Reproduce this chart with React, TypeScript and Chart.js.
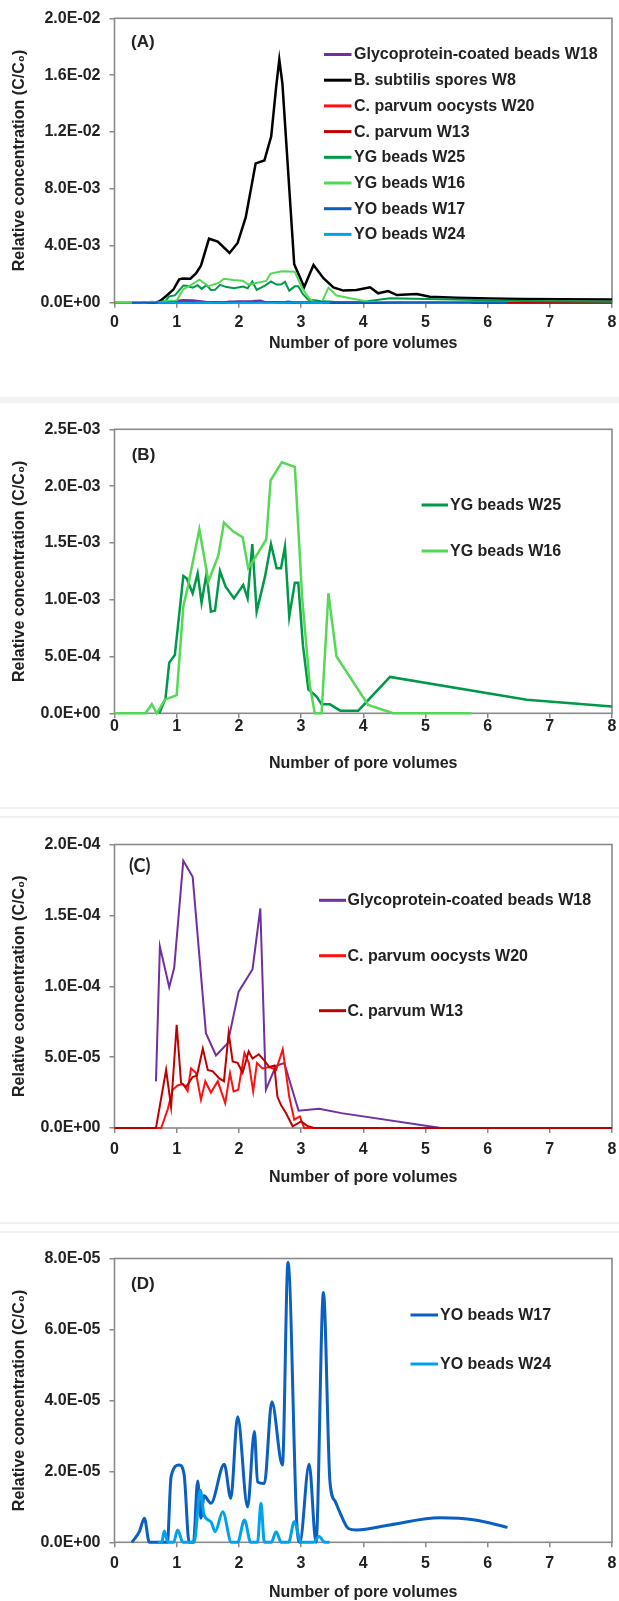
import React, { useEffect, useRef } from "react";
import { Chart, registerables } from "chart.js";
Chart.register(...registerables);

// ---------- data (x = number of pore volumes, y = C/C0) ----------
const glycoW18X = [0.667, 0.73, 0.88, 0.96, 1.106, 1.257, 1.47, 1.632, 1.82, 1.996, 2.22, 2.345, 2.435, 2.596, 2.73, 2.96, 3.29, 3.65, 5.25];
const glycoW18Y = [3.29e-5, 1.28e-4, 9.93e-5, 1.13e-4, 1.885e-4, 1.772e-4, 6.69e-5, 5.12e-5, 5.98e-5, 9.62e-5, 1.12e-4, 1.549e-4, 2.7e-5, 4.39e-5, 4.58e-5, 1.22e-5, 1.36e-5, 1.05e-5, 0];

const bsubW8X = [0.70, 0.85, 0.95, 1.04, 1.10, 1.22, 1.31, 1.39, 1.52, 1.66, 1.85, 1.98, 2.11, 2.27, 2.41, 2.52, 2.60, 2.65, 2.70, 2.89, 3.05, 3.20, 3.36, 3.52, 3.68, 3.89, 4.11, 4.24, 4.40, 4.54, 4.86, 5.07, 5.50, 6.04, 6.55, 7.20, 8.00];
const bsubW8Y = [0, 0.00054, 0.00094, 0.00164, 0.0017, 0.00169, 0.00206, 0.0026, 0.0045, 0.0043, 0.0035, 0.0042, 0.0060, 0.0098, 0.0100, 0.0117, 0.0152, 0.0171, 0.0154, 0.0027, 0.0011, 0.00265, 0.00172, 0.00108, 0.00085, 0.00089, 0.00108, 0.00066, 0.00082, 0.00054, 0.00061, 0.00042, 0.00035, 0.00030, 0.00026, 0.00024, 0.00022];

const cpW20X = [0, 0.75, 0.855, 0.935, 1.015, 1.10, 1.176, 1.23, 1.31, 1.39, 1.46, 1.55, 1.66, 1.78, 1.857, 1.915, 1.99, 2.09, 2.16, 2.23, 2.29, 2.38, 2.49, 2.60, 2.705, 2.81, 2.89, 2.98, 3.05, 8.0];
const cpW20Y = [0, 0, 1.3e-5, 2.7e-5, 3.0e-5, 3.1e-5, 2.6e-5, 4.2e-5, 3.9e-5, 2.0e-5, 3.3e-5, 2.5e-5, 3.3e-5, 1.76e-5, 3.87e-5, 2.58e-5, 2.7e-5, 5.3e-5, 4.6e-5, 2.58e-5, 4.58e-5, 4.2e-5, 4.3e-5, 4.1e-5, 5.56e-5, 2.2e-5, 5.9e-6, 8.2e-6, 0, 0];

const cpW13X = [0, 0.667, 0.83, 0.91, 1.0, 1.07, 1.15, 1.257, 1.327, 1.42, 1.50, 1.58, 1.686, 1.76, 1.836, 1.90, 1.98, 2.06, 2.157, 2.22, 2.32, 2.40, 2.49, 2.57, 2.62, 2.68, 2.757, 2.865, 3.0, 3.1, 3.21, 8.0];
const cpW13Y = [0, 0, 4.1e-5, 1.5e-5, 7.28e-5, 3.2e-5, 2.9e-5, 3.6e-5, 3.7e-5, 5.6e-5, 4.1e-5, 4.0e-5, 3.5e-5, 3.3e-5, 6.7e-5, 4.7e-5, 4.6e-5, 3.9e-5, 5.4e-5, 4.9e-5, 5.2e-5, 4.8e-5, 4.3e-5, 4.4e-5, 2.2e-5, 1.6e-5, 1.06e-5, 1.2e-6, 4.7e-6, 1.5e-6, 0, 0];

const ygW25X = [0.72, 0.82, 0.88, 0.97, 1.107, 1.16, 1.257, 1.337, 1.40, 1.48, 1.55, 1.616, 1.696, 1.787, 1.921, 2.07, 2.14, 2.216, 2.286, 2.42, 2.516, 2.607, 2.677, 2.741, 2.81, 2.90, 2.955, 3.03, 3.117, 3.25, 3.33, 3.465, 3.63, 3.92, 4.43, 6.63, 8.0];
const ygW25Y = [0, 1.3e-4, 4.46e-4, 5.13e-4, 1.209e-3, 1.188e-3, 1.056e-3, 1.232e-3, 9.74e-4, 1.232e-3, 8.95e-4, 9.04e-4, 1.253e-3, 1.115e-3, 1.012e-3, 1.13e-3, 1.012e-3, 1.49e-3, 8.95e-4, 1.203e-3, 1.49e-3, 1.276e-3, 1.276e-3, 1.467e-3, 8.5e-4, 1.15e-3, 1.15e-3, 6.0e-4, 2.11e-4, 1.47e-4, 7.9e-5, 7.9e-5, 2.3e-5, 2.3e-5, 3.2e-4, 1.2e-4, 6e-5];

const ygW16X = [0, 0.50, 0.60, 0.68, 0.81, 1.0, 1.107, 1.19, 1.364, 1.51, 1.67, 1.76, 1.91, 2.06, 2.15, 2.205, 2.44, 2.51, 2.69, 2.90, 3.02, 3.14, 3.22, 3.33, 3.44, 3.57, 4.08, 4.48, 5.74];
const ygW16Y = [0, 0, 8e-5, 0, 1.2e-4, 1.6e-4, 9.4e-4, 1.14e-3, 1.62e-3, 1.16e-3, 1.39e-3, 1.68e-3, 1.6e-3, 1.55e-3, 1.28e-3, 1.32e-3, 1.53e-3, 2.05e-3, 2.21e-3, 2.17e-3, 1.0e-3, 2.5e-4, 0, 0, 1.056e-3, 5.0e-4, 7.3e-5, 0, 0];

const yoW17X = [0.28, 0.40, 0.48, 0.56, 0.70, 0.85, 0.91, 1.04, 1.12, 1.20, 1.27, 1.337, 1.39, 1.44, 1.55, 1.765, 1.87, 1.98, 2.14, 2.25, 2.30, 2.41, 2.53, 2.70, 2.79, 2.93, 2.98, 3.13, 3.24, 3.36, 3.465, 3.55, 3.62, 3.76, 3.89, 4.43, 5.23, 5.8, 6.32];
const yoW17Y = [0, 3e-6, 6.8e-6, 0, 0, 0, 1.85e-5, 2.18e-5, 1.9e-5, 0, 0, 1.73e-5, 6.8e-6, 1.31e-5, 1.1e-5, 2.2e-5, 1.24e-5, 3.54e-5, 1.0e-5, 3.12e-5, 1.7e-5, 1.66e-5, 3.96e-5, 2.18e-5, 7.89e-5, 5.8e-6, 0, 2.2e-5, 0, 7.04e-5, 1.7e-5, 1.15e-5, 8.6e-6, 3.9e-6, 3.5e-6, 4.9e-6, 6.9e-6, 6.3e-6, 4.2e-6];

const yoW24X = [0.70, 0.76, 0.80, 0.86, 0.95, 1.015, 1.10, 1.28, 1.38, 1.44, 1.55, 1.62, 1.74, 1.88, 1.98, 2.09, 2.19, 2.30, 2.355, 2.41, 2.52, 2.60, 2.68, 2.80, 2.89, 3.00, 3.20, 3.29, 3.38, 3.46];
const yoW24Y = [0, 0, 3.2e-6, 0, 0, 3.5e-6, 0, 0, 1.47e-5, 7.7e-6, 5.8e-6, 3.0e-6, 8.6e-6, 0, 0, 6.3e-6, 0, 0, 1.1e-5, 0, 0, 3e-6, 0, 0, 5.8e-6, 0, 0, 1.6e-6, 0, 0];

const seriesNames = [
  "Glycoprotein-coated beads W18",
  "B. subtilis spores W8",
  "C. parvum oocysts W20",
  "C. parvum W13",
  "YG beads W25",
  "YG beads W16",
  "YO beads W17",
  "YO beads W24",
];

const xTickValues = [0, 1, 2, 3, 4, 5, 6, 7, 8];
const panelLabels = ["(A)", "(B)", "(C)", "(D)"];
const panelYMax = [2.0e-2, 2.5e-3, 2.0e-4, 8.0e-5];
const panelYStep = [4.0e-3, 5.0e-4, 5.0e-5, 2.0e-5];
const xTitle = "Number of pore volumes";
const yTitle = "Relative concentration (C/C\u2080)";

// ---------- styles ----------
const FONT = "'Liberation Sans', Arial, 'DejaVu Sans', sans-serif";
const TEXT = "#222222";
const AXIS = "#8a8a8a";

type S = { name: string; x: number[]; y: number[]; color: string; smooth: boolean; lw?: number };

const ALL: S[] = [
  { name: seriesNames[0], x: glycoW18X, y: glycoW18Y, color: "#7030A0", smooth: false },
  { name: seriesNames[1], x: bsubW8X, y: bsubW8Y, color: "#000000", smooth: false, lw: 2.5 },
  { name: seriesNames[2], x: cpW20X, y: cpW20Y, color: "#FF1010", smooth: false },
  { name: seriesNames[3], x: cpW13X, y: cpW13Y, color: "#C00000", smooth: false },
  { name: seriesNames[4], x: ygW25X, y: ygW25Y, color: "#00994A", smooth: false },
  { name: seriesNames[5], x: ygW16X, y: ygW16Y, color: "#55D855", smooth: false },
  { name: seriesNames[6], x: yoW17X, y: yoW17Y, color: "#0A5FC0", smooth: true },
  { name: seriesNames[7], x: yoW24X, y: yoW24Y, color: "#00A2EE", smooth: true },
];

type Panel = {
  idx: number;
  top: number;
  h: number;
  padTop: number;
  plotBottom: number;
  xTitlePad: number;
  xTickPad: number;
  series: number[];
  lw: number;
  legend: { x0: number; x1: number; tx: number; rows: number[] };
  label: { x: number; y: number; font: string };
};

const PANELS: Panel[] = [
  {
    idx: 0, top: 0, h: 390, padTop: 18.3, plotBottom: 302.7, xTitlePad: 38, xTickPad: 5,
    series: [0, 1, 2, 3, 4, 5, 6, 7], lw: 2,
    legend: { x0: 324, x1: 351.5, tx: 354, rows: [54.5, 80.2, 105.9, 131.6, 157.3, 183, 208.7, 234.4] },
    label: { x: 131, y: 42.5, font: `bold 17px ${FONT}` },
  },
  {
    idx: 1, top: 390, h: 400, padTop: 39.3, plotBottom: 323.3, xTitlePad: 18.7, xTickPad: -1,
    series: [4, 5], lw: 2.5,
    legend: { x0: 421.6, x1: 448, tx: 450, rows: [115, 161] },
    label: { x: 131.7, y: 65.5, font: `bold 17px ${FONT}` },
  },
  {
    idx: 2, top: 790, h: 410, padTop: 54.5, plotBottom: 338, xTitlePad: 14, xTickPad: 7,
    series: [0, 2, 3], lw: 2,
    legend: { x0: 319, x1: 346, tx: 347.5, rows: [110.3, 165.7, 220.7] },
    label: { x: 129, y: 76, font: `bold 18px Lato, ${FONT}` },
  },
  {
    idx: 3, top: 1200, h: 401, padTop: 58.5, plotBottom: 342.3, xTitlePad: 0, xTickPad: 7,
    series: [6, 7], lw: 3,
    legend: { x0: 410.5, x1: 438, tx: 440, rows: [115, 164] },
    label: { x: 131, y: 84, font: `bold 17px ${FONT}` },
  },
];

function fmtE(v: number): string {
  if (Math.abs(v) < 1e-15) return "0.0E+00";
  const s = v.toExponential(1);
  const [m, e] = s.split("e");
  const n = parseInt(e, 10);
  const sign = n < 0 ? "-" : "+";
  return `${m}E${sign}${String(Math.abs(n)).padStart(2, "0")}`;
}

const decorPlugin = {
  id: "panelDecor",
  beforeDatasetsDraw(chart: any) {
    const { ctx, chartArea: a } = chart;
    ctx.save();
    ctx.strokeStyle = AXIS;
    ctx.lineWidth = 1.6;
    ctx.strokeRect(a.left, a.top, a.right - a.left, a.bottom - a.top);
    ctx.restore();
  },
  afterDraw(chart: any, _args: any, opts: any) {
    const { ctx } = chart;
    const p: Panel = opts.panel;
    ctx.save();
    ctx.fillStyle = TEXT;
    ctx.textBaseline = "middle";
    ctx.textAlign = "left";
    ctx.font = p.label.font;
    ctx.fillText(panelLabels[p.idx], p.label.x, p.label.y);
    ctx.font = `bold 16px ${FONT}`;
    chart.data.datasets.forEach((ds: any, i: number) => {
      const y = p.legend.rows[i];
      ctx.strokeStyle = ds.borderColor;
      ctx.lineWidth = 3;
      ctx.beginPath();
      ctx.moveTo(p.legend.x0, y);
      ctx.lineTo(p.legend.x1, y);
      ctx.stroke();
      ctx.fillStyle = TEXT;
      ctx.fillText(ds.label, p.legend.tx, y + 0.5);
    });
    ctx.restore();
  },
};

function PanelChart({ p }: { p: Panel }) {
  const ref = useRef<HTMLCanvasElement>(null);
  useEffect(() => {
    const list = p.series.map((k) => ALL[k]);
    const n = list.length;
    const chart = new Chart(ref.current as HTMLCanvasElement, {
      type: "line",
      data: {
        datasets: list.map((s, i) => ({
          label: s.name,
          data: s.x.map((x, j) => ({ x, y: s.y[j] })),
          borderColor: s.color,
          backgroundColor: s.color,
          borderWidth: s.lw && p.idx === 0 ? s.lw : p.lw,
          pointRadius: 0,
          pointHoverRadius: 0,
          fill: false,
          tension: s.smooth ? 0.4 : 0,
          cubicInterpolationMode: s.smooth ? "monotone" : "default",
          clip: false,
          order: n - i,
        })) as any,
      },
      options: {
        responsive: false,
        animation: false,
        events: [],
        layout: { padding: { left: 0, right: 7, top: p.padTop, bottom: 0 }, autoPadding: false } as any,
        plugins: {
          legend: { display: false },
          tooltip: { enabled: false },
          panelDecor: { panel: p },
        } as any,
        scales: {
          x: {
            type: "linear",
            min: 0,
            max: 8,
            afterBuildTicks: (s: any) => {
              s.ticks = xTickValues.map((v) => ({ value: v }));
            },
            ticks: {
              color: TEXT,
              font: { family: FONT, size: 16, weight: "bold" },
              padding: p.xTickPad,
              maxRotation: 0,
              autoSkip: false,
              callback: (v: any) => String(v),
            },
            grid: { drawOnChartArea: false, drawTicks: true, tickLength: 5, color: AXIS, lineWidth: 1.5 },
            border: { display: false },
            title: {
              display: true,
              text: xTitle,
              color: TEXT,
              font: { family: FONT, size: 16, weight: "bold", lineHeight: 1 },
              padding: { top: 0, bottom: p.xTitlePad },
            },
            afterFit: (s: any) => {
              s.height = p.h - p.plotBottom;
              s.paddingLeft = 0;
              s.paddingRight = 0;
            },
          },
          y: {
            type: "linear",
            min: 0,
            max: panelYMax[p.idx],
            ticks: {
              stepSize: panelYStep[p.idx],
              color: TEXT,
              font: { family: FONT, size: 16, weight: "bold" },
              padding: 9,
              callback: (v: any) => fmtE(Number(v)),
            },
            grid: { drawOnChartArea: false, drawTicks: true, tickLength: 5, color: AXIS, lineWidth: 1.5 },
            border: { display: false },
            title: {
              display: true,
              text: yTitle,
              color: TEXT,
              font: { family: FONT, size: 16, weight: "bold", lineHeight: 1 },
              padding: { top: 12, bottom: 0 },
            },
            afterFit: (s: any) => {
              s.width = 114.5;
              s.paddingTop = 0;
              s.paddingBottom = 0;
            },
          },
        },
      } as any,
      plugins: [decorPlugin],
    });
    return () => chart.destroy();
  }, []);
  return (
    <canvas
      ref={ref}
      width={619}
      height={p.h}
      style={{ position: "absolute", left: 0, top: p.top, width: 619, height: p.h, display: "block" }}
    />
  );
}

const separators = [
  { top: 397, h: 6 },
  { top: 807, h: 2 },
  { top: 816, h: 2 },
  { top: 1222, h: 2 },
  { top: 1231, h: 2 },
];

export default function App() {
  return (
    <div
      style={{
        position: "absolute",
        left: 0,
        top: 0,
        width: 619,
        height: 1601,
        overflow: "hidden",
        background: "#ffffff",
      }}
    >
      {separators.map((s, i) => (
        <div key={i} style={{ position: "absolute", left: 0, top: s.top, width: 619, height: s.h, background: "#f1f1f1" }} />
      ))}
      {PANELS.map((p) => (
        <PanelChart key={p.idx} p={p} />
      ))}
    </div>
  );
}
